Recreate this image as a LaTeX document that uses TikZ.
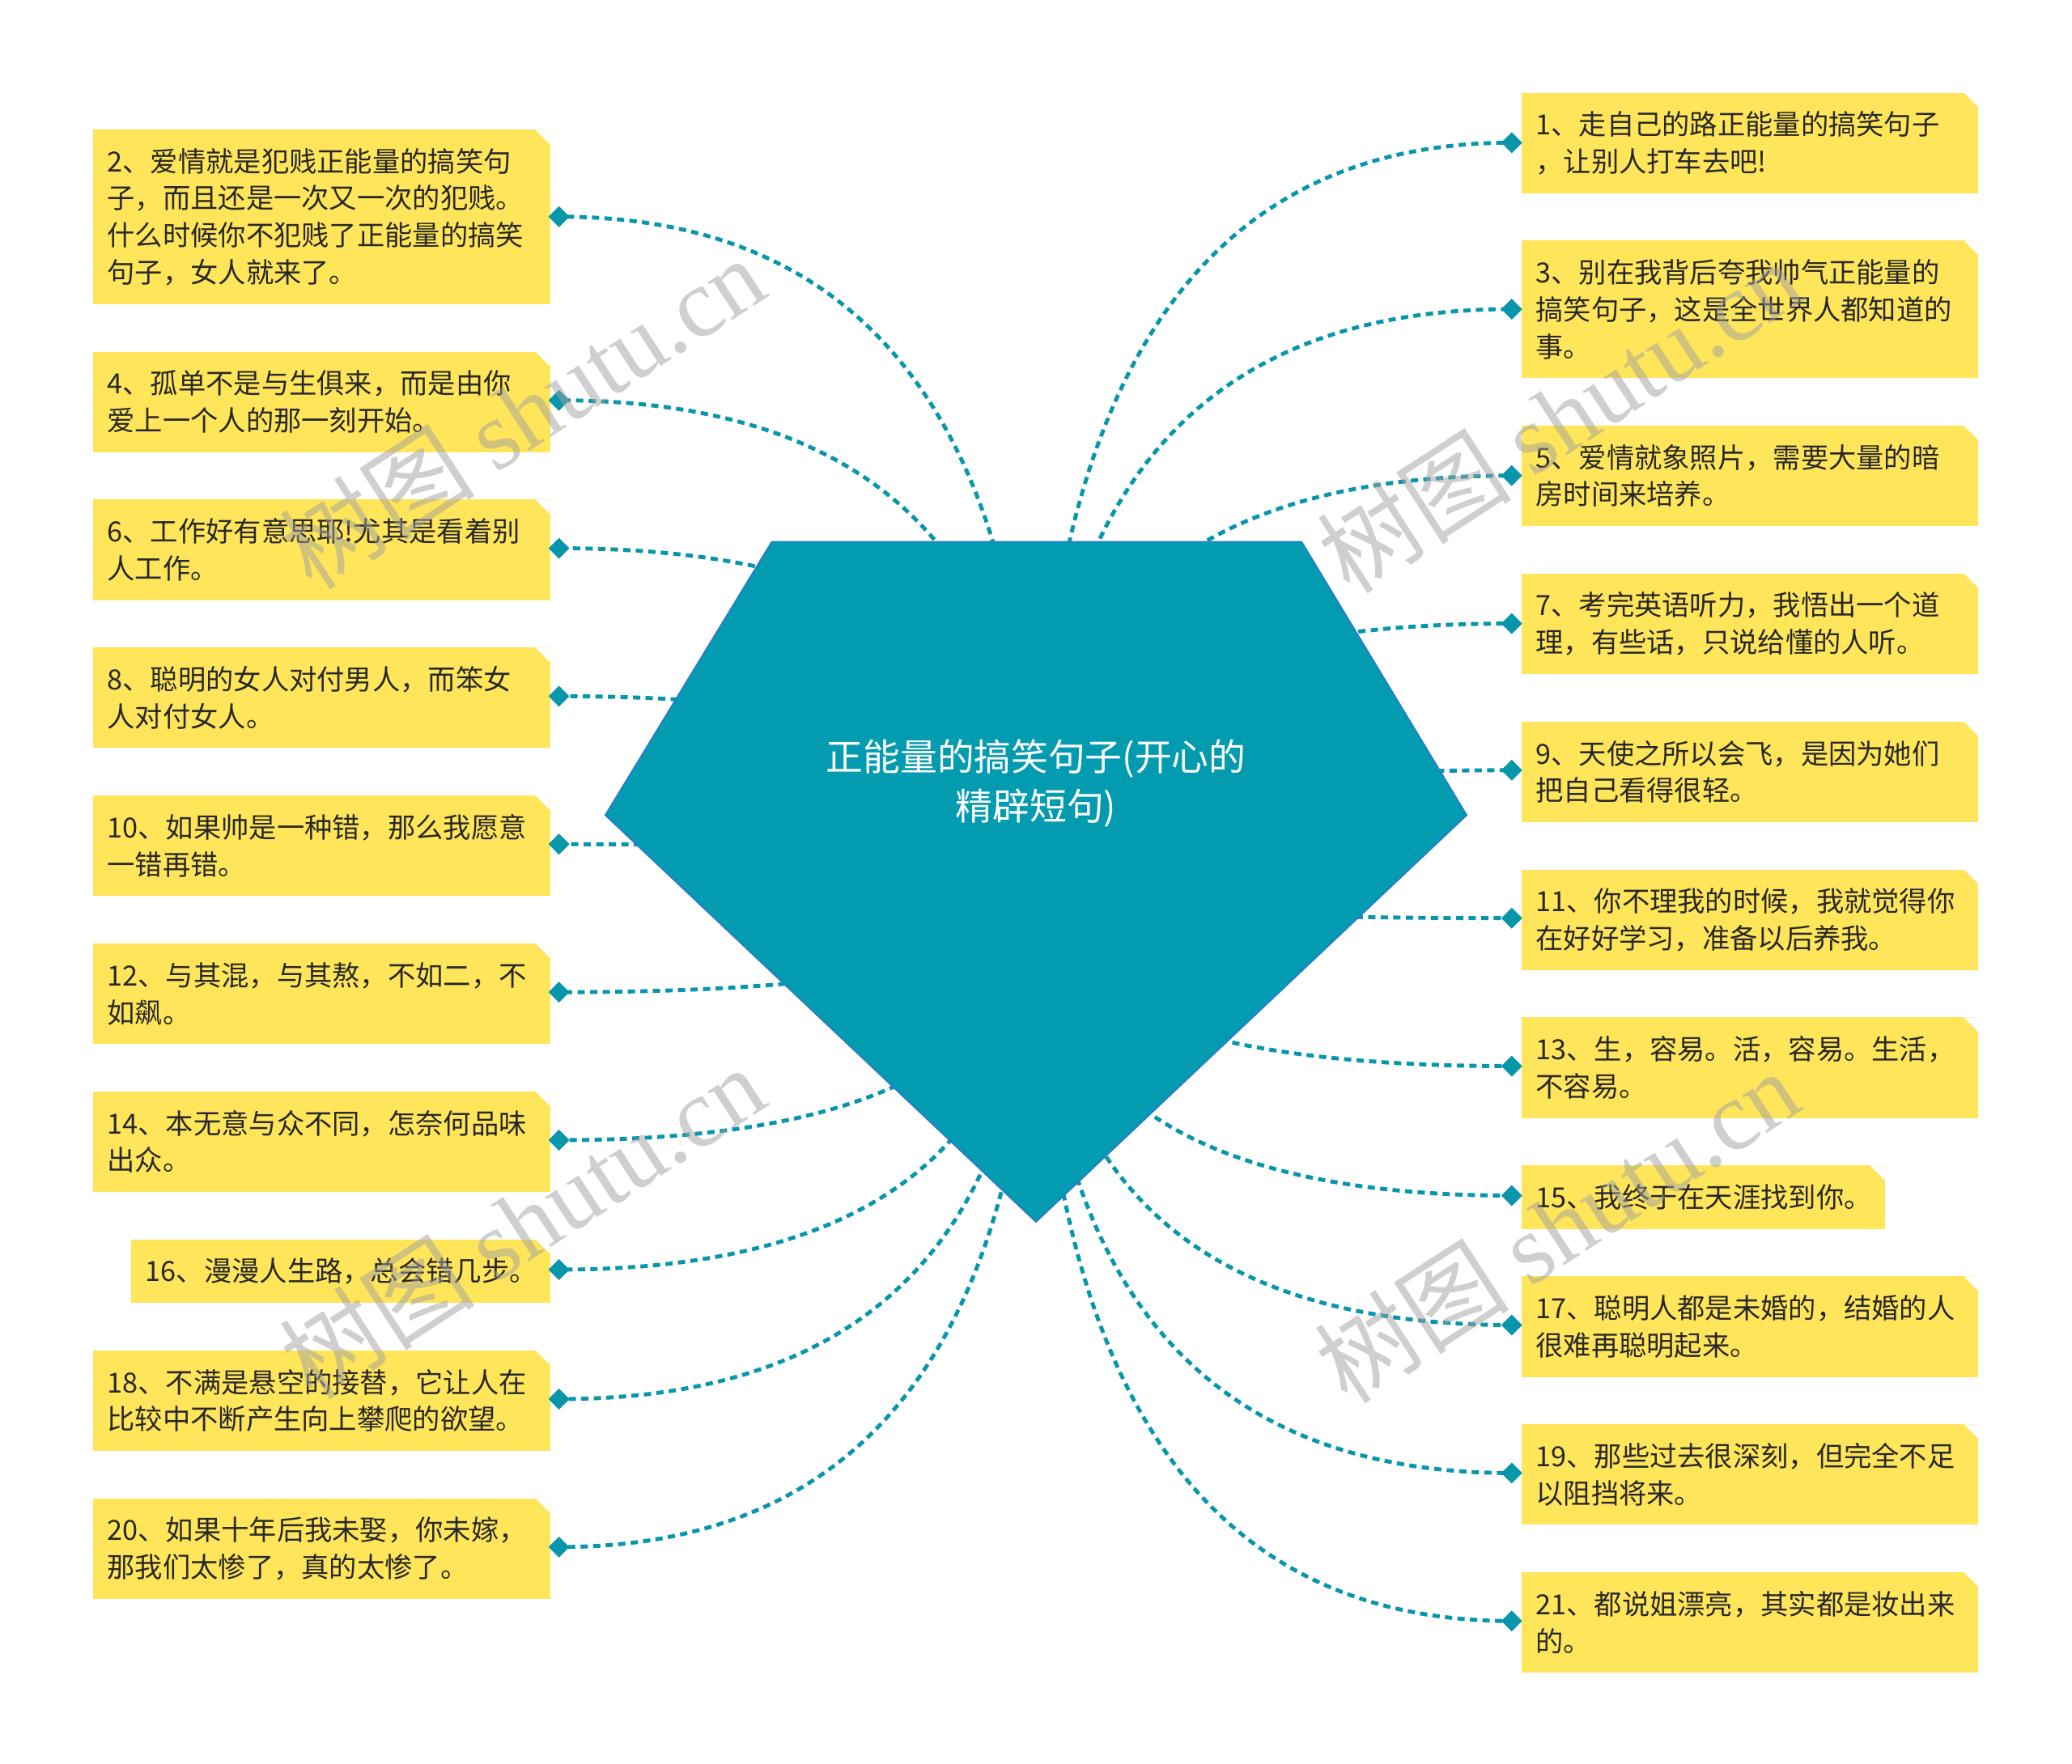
\documentclass[tikz,border=0pt]{standalone}
\usepackage{fontspec}
\setmainfont{Noto Sans CJK SC}
\newfontfamily\wmserif{Liberation Serif}
\usetikzlibrary{shapes.geometric,calc}
\pgfdeclarelayer{bg}
\pgfdeclarelayer{fg}
\pgfsetlayers{bg,main,fg}
\definecolor{boxy}{RGB}{255,229,90}
\definecolor{tealc}{RGB}{8,150,170}
\definecolor{rootc}{RGB}{3,155,175}
\definecolor{rootedge}{RGB}{45,120,210}
\definecolor{txt}{RGB}{40,40,40}
\definecolor{wm}{RGB}{160,160,160}
\tikzset{
  leaf/.style={rectangle, fill=boxy, anchor=north west, inner xsep=11pt, inner ysep=0pt,
    text width=#1, align=left, text=txt, font=\fontsize{21}{28}\selectfont,
    path picture={\fill[white] ([xshift=-11pt]path picture bounding box.north east)
      -- (path picture bounding box.north east)
      -- ([yshift=-11pt]path picture bounding box.north east) -- cycle;}},
  dia/.style={diamond, fill=tealc, inner sep=0pt, minimum width=16pt, minimum height=16pt},
  conn/.style={draw=tealc, line width=3pt, dash pattern=on 5.5pt off 4pt},
  wmark/.style={text=wm, opacity=0.5, font=\fontsize{74}{74}\selectfont, rotate=33}
}
\begin{document}
\begin{tikzpicture}[x=1pt,y=-1pt]
\useasboundingbox (0,0) rectangle (1568,1335);
\coordinate (c) at (784,667);

% left boxes
\node[leaf=324pt, minimum height=132pt] (n2) at (70,98) {2、爱情就是犯贱正能量的搞笑句\\子，而且还是一次又一次的犯贱。\\什么时候你不犯贱了正能量的搞笑\\句子，女人就来了。};
\node[leaf=324pt, minimum height=76pt] (n4) at (70,266) {4、孤单不是与生俱来，而是由你\\爱上一个人的那一刻开始。};
\node[leaf=324pt, minimum height=76pt] (n6) at (70,378) {6、工作好有意思耶!尤其是看着别\\人工作。};
\node[leaf=324pt, minimum height=76pt] (n8) at (70,490) {8、聪明的女人对付男人，而笨女\\人对付女人。};
\node[leaf=324pt, minimum height=76pt] (n10) at (70,602) {10、如果帅是一种错，那么我愿意\\一错再错。};
\node[leaf=324pt, minimum height=76pt] (n12) at (70,714) {12、与其混，与其熬，不如二，不\\如飙。};
\node[leaf=324pt, minimum height=76pt] (n14) at (70,826) {14、本无意与众不同，怎奈何品味\\出众。};
\node[leaf=295pt, minimum height=48pt] (n16) at (99,938) {16、漫漫人生路，总会错几步。};
\node[leaf=324pt, minimum height=76pt] (n18) at (70,1022) {18、不满是悬空的接替，它让人在\\比较中不断产生向上攀爬的欲望。};
\node[leaf=324pt, minimum height=76pt] (n20) at (70,1134) {20、如果十年后我未娶，你未嫁，\\那我们太惨了，真的太惨了。};

% right boxes
\node[leaf=324pt, minimum height=76pt] (n1) at (1151,70) {1、走自己的路正能量的搞笑句子\\，让别人打车去吧!};
\node[leaf=324pt, minimum height=104pt] (n3) at (1151,182) {3、别在我背后夸我帅气正能量的\\搞笑句子，这是全世界人都知道的\\事。};
\node[leaf=324pt, minimum height=76pt] (n5) at (1151,322) {5、爱情就象照片，需要大量的暗\\房时间来培养。};
\node[leaf=324pt, minimum height=76pt] (n7) at (1151,434) {7、考完英语听力，我悟出一个道\\理，有些话，只说给懂的人听。};
\node[leaf=324pt, minimum height=76pt] (n9) at (1151,546) {9、天使之所以会飞，是因为她们\\把自己看得很轻。};
\node[leaf=324pt, minimum height=76pt] (n11) at (1151,658) {11、你不理我的时候，我就觉得你\\在好好学习，准备以后养我。};
\node[leaf=324pt, minimum height=76pt] (n13) at (1151,770) {13、生，容易。活，容易。生活，\\不容易。};
\node[leaf=253pt, minimum height=48pt] (n15) at (1151,882) {15、我终于在天涯找到你。};
\node[leaf=324pt, minimum height=76pt] (n17) at (1151,966) {17、聪明人都是未婚的，结婚的人\\很难再聪明起来。};
\node[leaf=324pt, minimum height=76pt] (n19) at (1151,1078) {19、那些过去很深刻，但完全不足\\以阻挡将来。};
\node[leaf=324pt, minimum height=76pt] (n21) at (1151,1190) {21、都说姐漂亮，其实都是妆出来\\的。};

% diamonds
\node[dia] (d2) at (423,164) {};
\node[dia] (d4) at (423,303) {};
\node[dia] (d6) at (423,415) {};
\node[dia] (d8) at (423,527) {};
\node[dia] (d10) at (423,639) {};
\node[dia] (d12) at (423,751) {};
\node[dia] (d14) at (423,863) {};
\node[dia] (d16) at (423,961) {};
\node[dia] (d18) at (423,1059) {};
\node[dia] (d20) at (423,1171) {};
\node[dia] (d1) at (1144,108) {};
\node[dia] (d3) at (1144,234) {};
\node[dia] (d5) at (1144,360) {};
\node[dia] (d7) at (1144,472) {};
\node[dia] (d9) at (1144,583) {};
\node[dia] (d11) at (1144,695) {};
\node[dia] (d13) at (1144,807) {};
\node[dia] (d15) at (1144,905) {};
\node[dia] (d17) at (1144,1003) {};
\node[dia] (d19) at (1144,1115) {};
\node[dia] (d21) at (1144,1227) {};

% connectors (behind everything): quadratic curves from the root centre
\begin{pgfonlayer}{bg}
\fill[white] (0,0) rectangle (1568,1335);
\foreach \i in {1,...,21}
  \draw[conn] (c) .. controls ($(c)!2/3!(c |- d\i)$) and ($(d\i)!2/3!(c |- d\i)$) .. (d\i.center);
\end{pgfonlayer}

% root
\filldraw[fill=rootc, draw=rootedge, line width=1pt] (584,410) -- (985,410) -- (1110,617) -- (784,925) -- (458,617) -- cycle;
\node[text=white, font=\fontsize{28}{37}\selectfont, align=center] (root) at (784,593) {正能量的搞笑句子(开心的\\精辟短句)};

% watermarks
\begin{pgfonlayer}{fg}
\node[wmark] (w1) at (395,312) {树图 {\wmserif shutu.cn}};
\node[wmark] (w2) at (1180,315) {树图 {\wmserif shutu.cn}};
\node[wmark] (w3) at (395,925) {树图 {\wmserif shutu.cn}};
\node[wmark] (w4) at (1178,928) {树图 {\wmserif shutu.cn}};
\end{pgfonlayer}
\end{tikzpicture}
\end{document}
